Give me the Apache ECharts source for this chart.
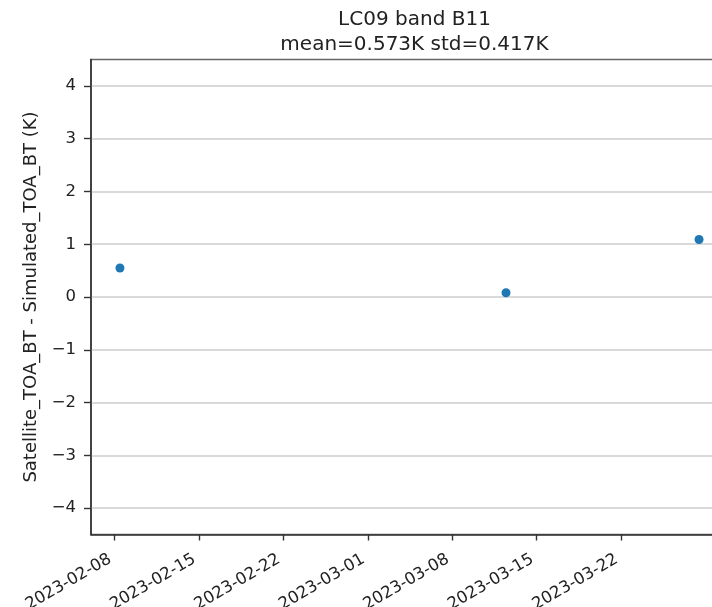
<!DOCTYPE html>
<html>
<head>
<meta charset="utf-8">
<script src="https://cdn.jsdelivr.net/npm/echarts@6/dist/echarts.min.js"></script>
<style>html,body{margin:0;padding:0;background:#fff;overflow:hidden}#c{width:712px;height:607px}</style>
</head>
<body>
<div id="c"></div>
<script>
// Data
const dates = ["2023-02-08T11:00:00Z", "2023-03-12T11:00:00Z", "2023-03-28T11:00:00Z"];
const diffs = [0.55, 0.08, 1.09];
const xTickDates = ["2023-02-08", "2023-02-15", "2023-02-22", "2023-03-01", "2023-03-08", "2023-03-15", "2023-03-22"];
const yTicks = [-4, -3, -2, -1, 0, 1, 2, 3, 4];
const titleText = "LC09 band B11\nmean=0.573K std=0.417K";
const yName = "Satellite_TOA_BT - Simulated_TOA_BT (K)";

const t = s => Date.parse(s);
const xTickVals = xTickDates.map(d => t(d + "T00:00:00Z"));
const first = t(dates[0]), last = t(dates[dates.length - 1]);
const span = last - first;
const xMin = first - 0.05 * span, xMax = last + 0.05 * span;

const fmt = v => {
  const d = new Date(v);
  const p = n => String(n).padStart(2, '0');
  return d.getUTCFullYear() + '-' + p(d.getUTCMonth() + 1) + '-' + p(d.getUTCDate());
};

const chart = echarts.init(document.getElementById('c'), null, {renderer: 'canvas'});
const FONT = 'DejaVu Sans';
chart.setOption({
  animation: false,
  backgroundColor: '#fff',
  title: {
    text: titleText,
    left: 409.5, top: 2, textAlign: 'center',
    textStyle: {fontFamily: FONT, fontSize: 20, fontWeight: 'normal', color: '#222', lineHeight: 25}
  },
  grid: {left: 91, width: 637, top: 59.5, height: 475, show: true, borderColor: '#666', borderWidth: 1.6,
    containLabel: false, outerBoundsMode: 'none'},
  xAxis: {
    type: 'value', min: xMin, max: xMax,
    axisLine: {show: true, onZero: false, lineStyle: {color: '#333', width: 1.6}},
    axisTick: {show: true, customValues: xTickVals, length: 6, lineStyle: {color: '#333', width: 1.4}},
    axisLabel: {
      customValues: xTickVals, rotate: 30, margin: 21, formatter: fmt,
      fontFamily: FONT, fontSize: 16.5, color: '#222', padding: [0, 5, 0, 0]
    },
    splitLine: {show: false}
  },
  yAxis: {
    type: 'value', min: -4.5, max: 4.5,
    name: yName, nameLocation: 'middle', nameGap: 46,
    nameTextStyle: {fontFamily: FONT, fontSize: 18, color: '#222'},
    axisLine: {show: true, onZero: false, lineStyle: {color: '#333', width: 1.6}},
    axisTick: {show: true, customValues: yTicks, length: 7, lineStyle: {color: '#333', width: 1.4}},
    axisLabel: {customValues: yTicks, margin: 15, fontFamily: FONT, fontSize: 16.5, color: '#222',
      formatter: v => (v < 0 ? '\u2212' + Math.abs(v) : String(v))},
    splitLine: {show: true, customValues: yTicks, lineStyle: {color: '#d9d9d9', width: 2}}
  },
  series: [{
    type: 'scatter',
    data: dates.map((d, i) => [t(d), diffs[i]]),
    symbolSize: 9,
    itemStyle: {color: '#1f77b4', opacity: 1}
  }]
});
</script>
</body>
</html>
